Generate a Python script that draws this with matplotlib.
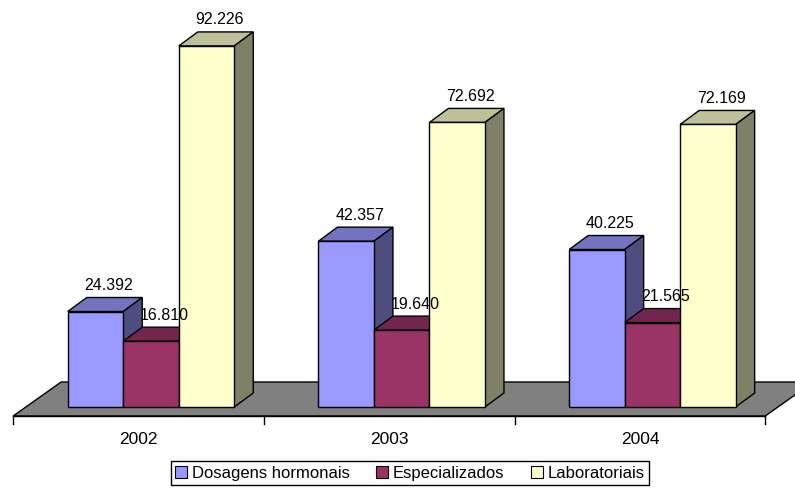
import matplotlib
matplotlib.use("Agg")
import matplotlib.pyplot as plt
from matplotlib.patches import Polygon, Patch

plt.rcParams['font.family'] = ['Liberation Sans', 'DejaVu Sans']

# data
years = ["2002", "2003", "2004"]
series = ["Dosagens hormonais", "Especializados", "Laboratoriais"]
dosagens = [24392, 42357, 40225]
especializados = [16810, 19640, 21565]
laboratoriais = [92226, 72692, 72169]

values = [dosagens, especializados, laboratoriais]

# face colours: front, top, side
front = ["#9999FF", "#993366", "#FFFFCC"]
top = ["#7373BF", "#73264D", "#BFBF99"]
side = ["#4D4D80", "#4D1A33", "#808066"]

# pixel scale of the drawing
px_x = 250.7      # pixels per category
px_y = 0.003915   # pixels per unit of value

def dx(p):
    return p / px_x

def dy(p):
    return p / px_y

fig = plt.figure(figsize=(7.95, 4.89), dpi=100)
ax = fig.add_axes([0, 0, 1, 1])
ax.set_xlim(-138.5 / px_x, (795 - 138.5) / px_x)
ax.set_ylim(-(489 - 408) / px_y, 408 / px_y)
ax.axis("off")

# floor
y0 = dy(-9)
fdx, fdy = dx(48), dy(34)
n = len(years)
floor = Polygon([(-0.5, y0), (n - 0.5, y0), (n - 0.5 + fdx, y0 + fdy), (-0.5 + fdx, y0 + fdy)],
                closed=True, facecolor="#808080", edgecolor="black", lw=1, zorder=1)
ax.add_patch(floor)

# category axis with ticks
ax.plot([-0.5, n - 0.5], [y0, y0], color="black", lw=1, zorder=2)
for b in range(n + 1):
    ax.plot([b - 0.5, b - 0.5], [y0, y0 - dy(8)], color="black", lw=1, zorder=2)
for i, yr in enumerate(years):
    ax.text(i, dy(-31.5), yr, ha="center", va="center", fontsize=12.5)

# 3d bars
w = 55.5 / px_x
sdx = dx(12.5)
bdx, bdy = dx(19), dy(14)
z = 3
for i in range(n):
    for j, vals in enumerate(values):
        v = vals[i]
        xl = i + sdx - 1.5 * w + j * w
        ax.bar(xl, v, width=w, align="edge", color=front[j], edgecolor="black", lw=1, zorder=z + 0.2)
        ax.add_patch(Polygon([(xl, v), (xl + w, v), (xl + w + bdx, v + bdy), (xl + bdx, v + bdy)],
                             closed=True, facecolor=top[j], edgecolor="black", lw=1, zorder=z))
        ax.add_patch(Polygon([(xl + w, 0), (xl + w, v), (xl + w + bdx, v + bdy), (xl + w + bdx, bdy)],
                             closed=True, facecolor=side[j], edgecolor="black", lw=1, zorder=z))
        label = f"{v:,}".replace(",", ".")
        ax.text(xl + w / 2 + dx(13.5), v + bdy + dy(13), label, ha="center", va="center",
                fontsize=11.5, zorder=50)
        z += 1

handles = [Patch(facecolor=front[j], edgecolor="black", lw=0.8) for j in range(3)]
leg = fig.legend(handles, series, loc="center", bbox_to_anchor=(410 / 795, 1 - 474 / 489),
                 ncol=3, frameon=True, fancybox=False, edgecolor="black", framealpha=1,
                 handlelength=0.7, handleheight=0.7, handletextpad=0.3, columnspacing=1.6,
                 borderpad=0.25, borderaxespad=0, fontsize=12)
leg.get_frame().set_linewidth(1)

fig.savefig("out.png", dpi=100)
